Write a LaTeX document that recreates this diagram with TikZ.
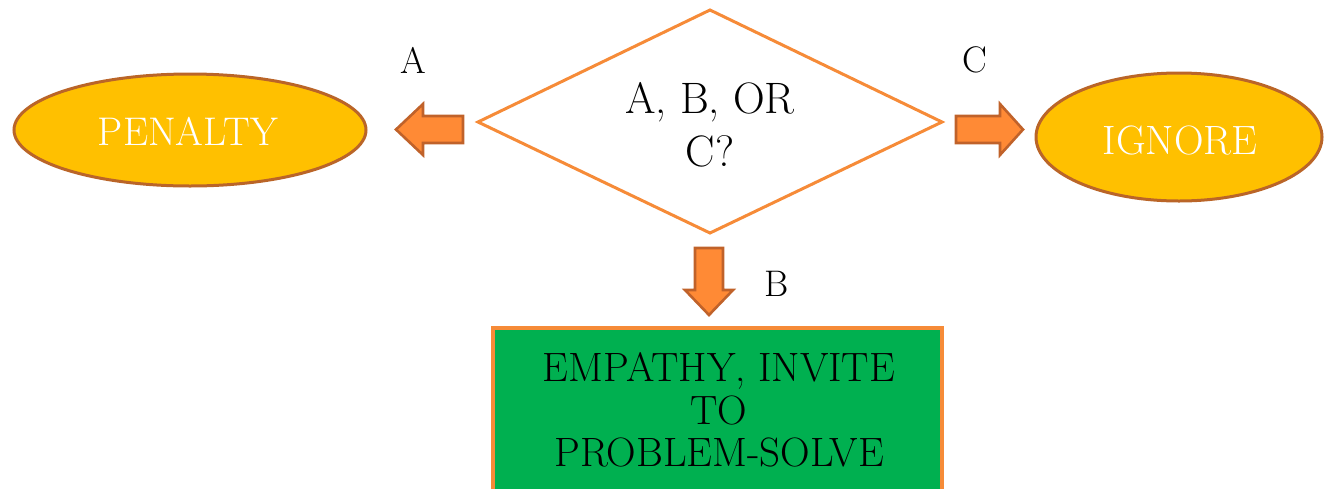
\documentclass[tikz,border=0pt]{standalone}
\usepackage{tikz}
\usetikzlibrary{shapes.geometric}
\definecolor{orangeline}{HTML}{F68B38}
\definecolor{arrowfill}{HTML}{FF8A35}
\definecolor{arrowline}{HTML}{C0622A}
\definecolor{goldfill}{HTML}{FFC000}
\definecolor{goldline}{HTML}{BA6528}
\definecolor{greenfill}{HTML}{00B050}
\tikzset{
  blockarrow/.style={fill=arrowfill, draw=arrowline, line width=2.6pt, line join=miter},
  oval/.style={fill=goldfill, draw=goldline, line width=3pt},
  lbl/.style={font=\fontsize{37}{44}\selectfont, inner sep=0pt},
}
\begin{document}
\begin{tikzpicture}[x=1pt,y=-1pt]
\useasboundingbox (0,0) rectangle (1326,488);
\clip (0,0) rectangle (1326,488);
% diamond
\draw[orangeline, line width=3pt, line join=miter, fill=white] (710,10) -- (942,122) -- (710,233) -- (478,122) -- cycle;
\node[align=center, font=\fontsize{44}{53}\selectfont, inner sep=0pt] (q) at (710,125) {A, B, OR\\C?};
% ovals
\draw[oval] (190,130) ellipse [x radius=176, y radius=56];
\node[text=white, font=\fontsize{40}{46}\selectfont, inner sep=0pt] (pen) at (188,131) {PENALTY};
\draw[oval] (1179,137) ellipse [x radius=143, y radius=64];
\node[text=white, font=\fontsize{41}{46}\selectfont, inner sep=0pt] (ign) at (1180,140) {IGNORE};
% green box
\draw[fill=greenfill, draw=orangeline, line width=4pt] (493,328) rectangle (942,500);
\node[align=center, font=\fontsize{41}{42.5}\selectfont, inner sep=0pt] (emp) at (719,410) {EMPATHY, INVITE\\TO\\PROBLEM-SOLVE};
% arrows
\draw[blockarrow] (463,116) -- (423,116) -- (423,104) -- (396,129.5) -- (423,155) -- (423,143) -- (463,143) -- cycle;
\draw[blockarrow] (956,116) -- (1000,116) -- (1000,104) -- (1023,129.5) -- (1000,155) -- (1000,143) -- (956,143) -- cycle;
\draw[blockarrow] (695,248) -- (695,290) -- (685,290) -- (709,315) -- (733,290) -- (723,290) -- (723,248) -- cycle;
% labels
\node[lbl] (la) at (413,60) {A};
\node[lbl] (lc) at (975,60) {C};
\node[lbl] (lb) at (777,284) {B};
\end{tikzpicture}
\end{document}
